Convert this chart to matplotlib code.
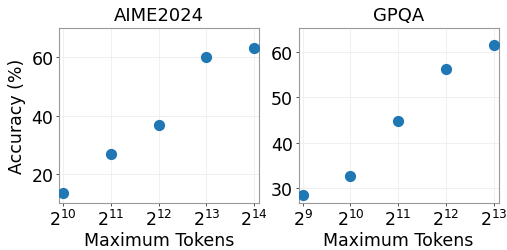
import matplotlib.pyplot as plt

# Data
aime_tokens = [2**10, 2**11, 2**12, 2**13, 2**14]
aime_acc = [13.3, 26.7, 36.7, 60.0, 63.3]
gpqa_tokens = [2**9, 2**10, 2**11, 2**12, 2**13]
gpqa_acc = [28.5, 32.6, 44.8, 56.3, 61.4]

fig = plt.figure(figsize=(5.07, 2.51), dpi=100)
ax1 = fig.add_axes([0.1164, 0.187, 0.3946, 0.697])
ax2 = fig.add_axes([0.589, 0.187, 0.3946, 0.697])

panels = [
    (ax1, aime_tokens, aime_acc, 'AIME2024', (10, 70), [20, 40, 60]),
    (ax2, gpqa_tokens, gpqa_acc, 'GPQA', (26.7, 65.2), [30, 40, 50, 60]),
]

for ax, x, y, title, ylim, yticks in panels:
    ax.scatter(x, y, s=50, color='#1f77b4', zorder=3)
    ax.set_xscale('log', base=2)
    ax.set_xlim(x[0] / 2**0.085, x[-1] * 2**0.1)
    ax.set_xticks(x)
    ax.minorticks_off()
    ax.set_ylim(*ylim)
    ax.set_yticks(yticks)
    ax.set_title(title, fontsize=13, pad=6)
    ax.set_xlabel('Maximum Tokens', fontsize=12.5, labelpad=2)
    ax.tick_params(labelsize=12.5, length=2, width=0.6, pad=2, colors='#333333', labelcolor='black')
    ax.grid(True, color='#eeeeee', linewidth=0.6)
    ax.set_axisbelow(True)
    for s in ax.spines.values():
        s.set_color('#999999')
        s.set_linewidth(0.8)

ax1.set_ylabel('Accuracy (%)', fontsize=12.5, labelpad=4)

plt.savefig('out.png', dpi=100)
print("Generated out.png")
